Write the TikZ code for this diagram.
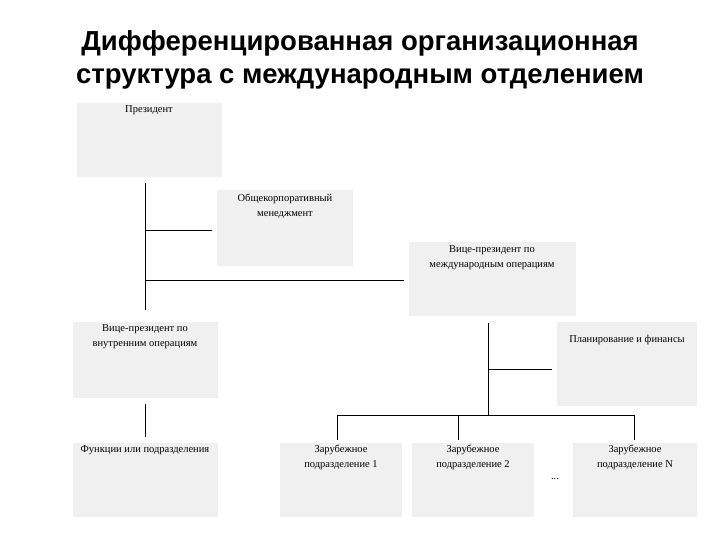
\documentclass[tikz,border=0pt]{standalone}
\usepackage{fontspec}
\setmainfont{Liberation Serif}
\newfontfamily\titlefont{Liberation Sans}
\begin{document}
\begin{tikzpicture}[x=1pt,y=-1pt,
  box/.style={fill=black!6,draw=none},
  lbl/.style={anchor=north,align=center,font=\fontsize{10.5}{15}\selectfont,inner sep=0pt},
  ln/.style={line width=0.9pt}]
\useasboundingbox (0,0) rectangle (720,540);
\node[font=\titlefont\bfseries\fontsize{27.5}{33}\selectfont,align=center] (title) at (360,60) {Дифференцированная организационная\\структура с международным отделением};
\fill[box] (77,103) rectangle (222,177);
\node[lbl] (pres) at (149,105) {Президент};
\fill[box] (217,190) rectangle (353,266);
\node[lbl] (gen) at (285,194) {Общекорпоративный\\менеджмент};
\fill[box] (409,242) rectangle (576,316);
\node[lbl] (vpi) at (492,245) {Вице-президент по\\международным операциям};
\fill[box] (73,322) rectangle (218,398);
\node[lbl] (vpd) at (145,324) {Вице-президент по\\внутренним операциям};
\fill[box] (557,322) rectangle (697,406);
\node[lbl] (plan) at (627,335) {Планирование и финансы};
\fill[box] (73,443) rectangle (218,517);
\node[lbl] (func) at (145,445) {Функции или подразделения};
\fill[box] (280,443) rectangle (402,517);
\node[lbl] (s1) at (341,445) {Зарубежное\\подразделение 1};
\fill[box] (412,443) rectangle (534,517);
\node[lbl] (s2) at (473,445) {Зарубежное\\подразделение 2};
\fill[box] (573,443) rectangle (697,517);
\node[lbl] (sn) at (635,445) {Зарубежное\\подразделение N};
\node[lbl] (dots) at (555,478) {...};
\coordinate (a1) at (145,183); \coordinate (a2) at (145,310);
\coordinate (g) at (145,230); \coordinate (g2) at (212,230);
\coordinate (v) at (145,280); \coordinate (v2) at (404,280);
\coordinate (b1) at (145,404); \coordinate (b2) at (145,437);
\coordinate (c1) at (488,323); \coordinate (c2) at (488,415);
\coordinate (p) at (488,369); \coordinate (p2) at (552,369);
\coordinate (L) at (337,415); \coordinate (M) at (458,415); \coordinate (R) at (634,415);
\draw[ln] (a1) -- (a2); \draw[ln] (g) -- (g2); \draw[ln] (v) -- (v2);
\draw[ln] (b1) -- (b2); \draw[ln] (c1) -- (c2); \draw[ln] (p) -- (p2);
\draw[ln] (L) -- (R);
\draw[ln] (L) -- ++(0,25); \draw[ln] (M) -- ++(0,25); \draw[ln] (R) -- ++(0,25);
\end{tikzpicture}
\end{document}
